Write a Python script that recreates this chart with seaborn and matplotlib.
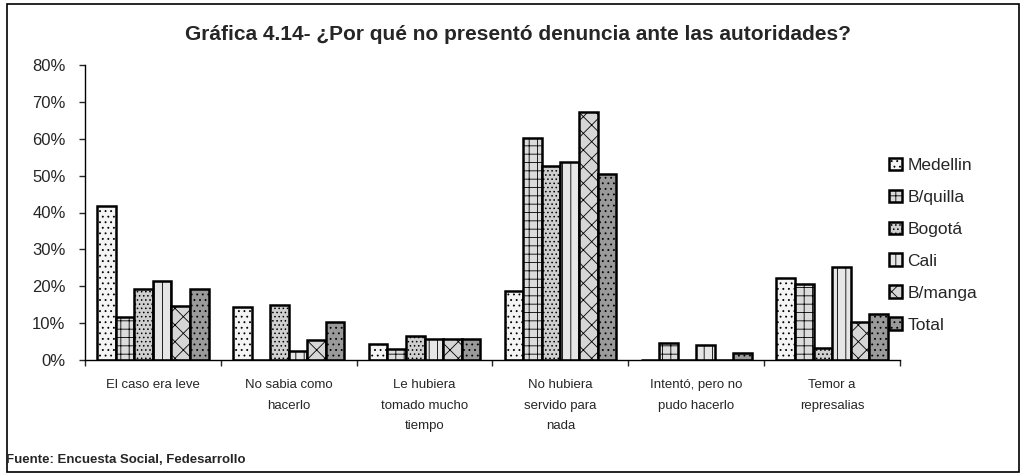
import pandas as pd
import seaborn as sns
import matplotlib.pyplot as plt
from matplotlib.patches import Rectangle
from matplotlib.ticker import FuncFormatter, FixedLocator

# categories and series (percent)
categories = ['El caso era leve', 'No sabia como\nhacerlo', 'Le hubiera\ntomado mucho\ntiempo',
              'No hubiera\nservido para\nnada', 'Intentó, pero no\npudo hacerlo', 'Temor a\nrepresalias']
cities = ['Medellin', 'B/quilla', 'Bogotá', 'Cali', 'B/manga', 'Total']
medellin = [41.7, 14.4, 4.3, 18.7, 0, 22.3]
barranquilla = [11.7, 0, 3.0, 60.3, 4.7, 20.5]
bogota = [19.3, 15.0, 6.6, 52.7, 0, 3.3]
cali = [21.5, 2.4, 5.6, 53.8, 4.0, 25.1]
bucaramanga = [14.6, 5.4, 5.6, 67.3, 0, 10.4]
total = [19.3, 10.4, 5.6, 50.4, 2.0, 12.5]
yticks = [0, 10, 20, 30, 40, 50, 60, 70, 80]

series = [medellin, barranquilla, bogota, cali, bucaramanga, total]
rows = []
for city, vals in zip(cities, series):
    for cat, v in zip(categories, vals):
        rows.append({'cat': cat, 'city': city, 'val': v})
df = pd.DataFrame(rows)

sns.set_style('white')
plt.rcParams['font.family'] = ['Liberation Sans', 'DejaVu Sans']
plt.rcParams['hatch.color'] = '#4d4d4d'
plt.rcParams['hatch.linewidth'] = 0.6

faces = ['#f4f4f4', '#dcdcdc', '#cfcfcf', '#e6e6e6', '#d6d6d6', '#9a9a9a']
hatches = ['...', '++', '....', '||', 'xx', '...']

fig = plt.figure(figsize=(10.23, 4.75), dpi=100)
ax = fig.add_axes([85 / 1023, 1 - 360 / 475, 815 / 1023, 295 / 475])

sns.barplot(data=df, x='cat', y='val', hue='city', hue_order=cities, order=categories,
            palette=faces, width=0.82, edgecolor='black', linewidth=1.8, ax=ax)

for cont, h in zip(ax.containers, hatches):
    for p in cont:
        p.set_hatch(h)

ax.set_ylim(0, 80)
ax.set_xlim(-0.5, 5.5)
ax.yaxis.set_major_locator(FixedLocator(yticks))
ax.yaxis.set_major_formatter(FuncFormatter(lambda v, _: f'{v:.0f}%'))
ax.tick_params(axis='y', labelsize=12, length=4, width=1, direction='out', left=True, pad=10)
ax.tick_params(axis='x', which='major', length=0, labelsize=9.5, pad=14)
ax.set_xticks([i + 0.5 for i in range(-1, 6)], minor=True)
ax.tick_params(axis='x', which='minor', length=4, width=1, direction='out', bottom=True)
for lab in ax.get_xticklabels():
    lab.set_linespacing(1.9)
ax.set_xlabel('')
ax.set_ylabel('')
sns.despine(ax=ax)
for s in ['left', 'bottom']:
    ax.spines[s].set_color('black')
    ax.spines[s].set_linewidth(1)

handles = list(ax.containers)
ax.legend(handles, cities, loc='upper left', bbox_to_anchor=(0.972, 0.727), frameon=False,
          fontsize=12.5, handlelength=0.75, handleheight=0.75, handletextpad=0.3,
          labelspacing=0.95, borderaxespad=0.3)

fig.text(518 / 1023, 1 - 35 / 475, 'Gráfica 4.14- ¿Por qué no presentó denuncia ante las autoridades?',
         ha='center', va='center', fontsize=15, fontweight='bold')
fig.text(6 / 1023, 1 - 460 / 475, 'Fuente: Encuesta Social, Fedesarrollo',
         ha='left', va='center', fontsize=9.5, fontweight='bold')

fig.patches.append(Rectangle((7 / 1023, 3 / 475), 1012 / 1023, 468 / 475, transform=fig.transFigure,
                             fill=False, edgecolor='black', linewidth=1.2))

fig.savefig('out.png', dpi=100)
